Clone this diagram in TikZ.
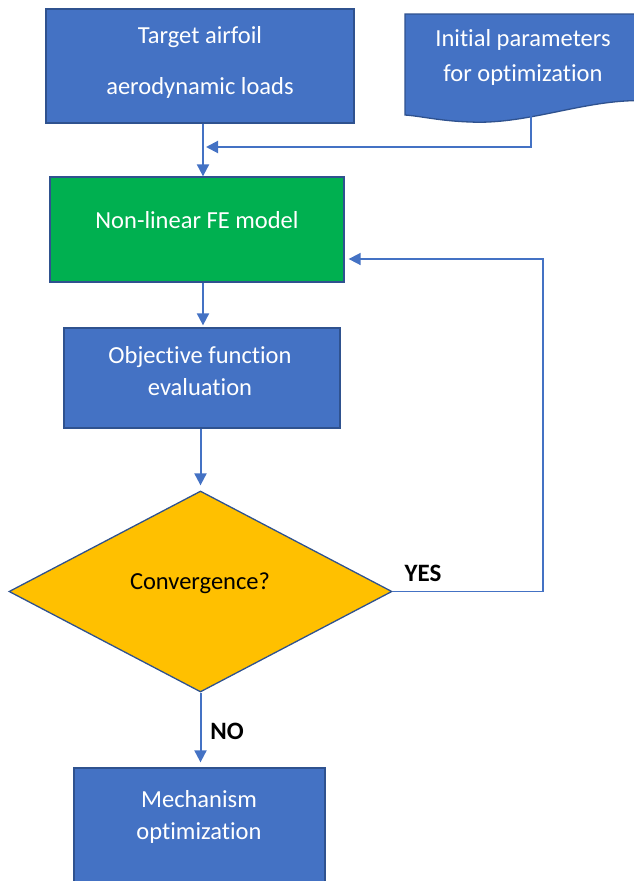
\documentclass[tikz,border=0pt]{standalone}
\usepackage{fontspec}
\setmainfont{Carlito}[Ligatures={NoCommon}]
\usetikzlibrary{shapes.geometric,arrows.meta}

\definecolor{boxblue}{HTML}{4472C4}
\definecolor{edgeblue}{HTML}{2F528F}
\definecolor{fegreen}{HTML}{00B050}
\definecolor{decision}{HTML}{FFC000}
\definecolor{flowblue}{HTML}{4472C4}

\tikzset{
  bluebox/.style={draw=edgeblue, line width=1.3pt, fill=boxblue, rectangle, inner sep=0pt},
  greenbox/.style={draw=edgeblue, line width=1.3pt, fill=fegreen, rectangle, inner sep=0pt},
  boxtext/.style={text=white, align=center, inner sep=0pt,
    font=\fontsize{24.5}{32}\selectfont},
  darktext/.style={text=black, align=center, inner sep=0pt,
    font=\fontsize{24.5}{32}\selectfont},
  answer/.style={text=black, inner sep=0pt, font=\fontsize{25}{30}\selectfont\bfseries},
  flow/.style={draw=flowblue, line width=2pt,
    -{Triangle[length=12pt,width=12pt]}},
}

\begin{document}
\begin{tikzpicture}[x=1pt,y=-1pt]
  \useasboundingbox (0,0) rectangle (634,881);
  \clip (0,0) rectangle (634,881);

  % process boxes
  \node[bluebox, minimum width=308pt, minimum height=114pt] (target) at (200,66) {};
  \node[boxtext] (targettext) at (200,62.5) {Target airfoil\\[19pt]aerodynamic loads};

  \node[greenbox, minimum width=294pt, minimum height=105pt] (fe) at (197,229.5) {};
  \node[boxtext] (fetext) at (197,220) {Non-linear FE model};

  \node[bluebox, minimum width=276pt, minimum height=100pt] (obj) at (202,378) {};
  \node[boxtext] (objtext) at (200,371) {Objective function\\evaluation};

  \node[bluebox, minimum width=251pt, minimum height=150pt] (mech) at (199.5,843) {};
  \node[boxtext] (mechtext) at (199,817) {Mechanism\\optimization};

  % document shape with wavy lower edge
  \draw[draw=edgeblue, line width=1.3pt, fill=boxblue]
    (405,14) -- (650,14) -- (650,101)
    .. controls (590,97) and (530,125) .. (470,122)
    .. controls (440,121) and (420,116) .. (405,115) -- cycle;
  \node[boxtext] (params) at (523,57) {Initial parameters\\[3pt]for optimization};
  \coordinate (docout) at (531,112);

  % decision
  \node[diamond, draw=edgeblue, line width=1.3pt, fill=decision, inner sep=0pt,
        minimum width=383pt, minimum height=201pt] (conv) at (200.5,591.5) {};
  \node[darktext] (convtext) at (200,583) {Convergence?};

  \node[answer] (yes) at (423,573) {YES};
  \node[answer] (no) at (227,731) {NO};

  % connectors
  \coordinate (trunk) at (203,0);
  \coordinate (merge) at (206,147);
  \coordinate (loopc) at (543,259);

  \draw[flow] (target.south -| trunk) -- (fe.north -| trunk);
  \draw[flow] (docout) |- (merge);
  \draw[flow, shorten >=2pt] (fe.south -| trunk) -- (obj.north -| trunk);
  \draw[flow, shorten >=5pt] (obj.south -| conv.north) -- (conv.north);
  \draw[flow, shorten >=5pt] (conv.south) -- (conv.south |- mech.north);
  \draw[flow, line width=1.7pt, shorten >=4pt] (conv.east) -| (loopc) -- (fe.east |- loopc);
\end{tikzpicture}
\end{document}
